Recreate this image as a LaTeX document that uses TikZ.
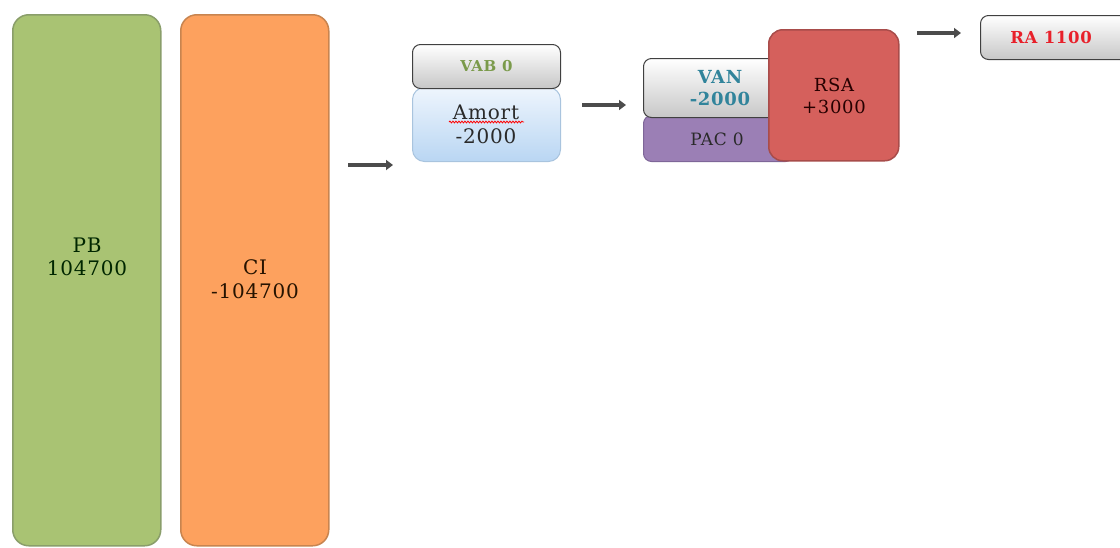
\documentclass[tikz,border=0pt]{standalone}
\usepackage{fontspec}
\setmainfont{DejaVu Serif}[LetterSpace=4]
\usetikzlibrary{positioning,arrows.meta,decorations.pathmorphing}
\definecolor{pbgreen}{HTML}{A9C373}
\definecolor{pbedge}{HTML}{8A9E6A}
\definecolor{ciorange}{HTML}{FDA15E}
\definecolor{ciedge}{HTML}{C8844F}
\definecolor{rsared}{HTML}{D5605C}
\definecolor{rsaedge}{HTML}{A84C4A}
\definecolor{pacpurple}{HTML}{9B7FB5}
\definecolor{pacedge}{HTML}{7E6698}
\definecolor{amorttop}{HTML}{EEF5FD}
\definecolor{amortbot}{HTML}{B9D6F3}
\definecolor{amortedge}{HTML}{A9C4DE}
\definecolor{vabtext}{HTML}{7A9A4A}
\definecolor{vantext}{HTML}{31849B}
\definecolor{ratext}{HTML}{E8202A}
\definecolor{darktext}{HTML}{2A2A2A}
\tikzset{
  bigbox/.style={draw, line width=1.5pt, rounded corners=16pt, minimum width=148pt,
    minimum height=531pt, anchor=north west},
  greybox/.style={draw=black!75, line width=1pt, rounded corners=8pt, top color=white,
    bottom color=black!22, anchor=north west, align=center},
  flowarrow/.style={draw=black!70, line width=3.2pt, -{Triangle[length=7pt,width=10pt]}}
}
\begin{document}
\begin{tikzpicture}[x=1pt,y=-1pt]
\useasboundingbox (0,0) rectangle (1120,547);
% left columns
\node[bigbox, fill=pbgreen, draw=pbedge] (pb) at (12,14) {};
\node[text=black!85!green, font=\fontsize{20}{23}\selectfont, align=center] (pbtext) at (87,257) {PB\\104700};
\node[bigbox, fill=ciorange, draw=ciedge] (ci) at (180,14) {};
\node[text=black!85!orange, font=\fontsize{20}{24}\selectfont, align=center] (citext) at (255,279) {CI\\-104700};

% VAB and Amort
\node[draw=amortedge, line width=1pt, rounded corners=12pt, top color=amorttop, bottom color=amortbot,
  minimum width=148pt, minimum height=74pt, anchor=north west] (amort) at (412,87) {};
\node[font=\fontsize{20}{24}\selectfont, text=darktext, align=center] (amorttext) at (486,124) {Amort\\-2000};
\draw[red, line width=0.8pt, decorate, decoration={snake, amplitude=0.9pt, segment length=3pt}]
  (449,122) -- (524,122);
\node[greybox, minimum width=148pt, minimum height=44pt, font=\bfseries\fontsize{15}{17}\selectfont,
  text=vabtext] (vab) at (412,44) {VAB 0};

% VAN, PAC and RSA
\node[draw=pacedge, line width=1pt, rounded corners=8pt, fill=pacpurple, minimum width=150pt,
  minimum height=46pt, anchor=north west] (pac) at (643,115) {};
\node[font=\fontsize{17}{19}\selectfont, text=darktext] (pactext) at (717,139) {PAC 0};
\node[greybox, minimum width=146pt, minimum height=59pt] (van) at (643,58) {};
\node[font=\bfseries\fontsize{18}{22}\selectfont, text=vantext, align=center] (vantext) at (720,88) {VAN\\-2000};
\node[draw=rsaedge, line width=1.5pt, rounded corners=14pt, fill=rsared, minimum width=130pt,
  minimum height=131pt, anchor=north west] (rsa) at (768,29) {};
\node[font=\fontsize{18}{22}\selectfont, text=black!85!red, align=center] (rsatext) at (834,96) {RSA\\+3000};

% result
\node[greybox, minimum width=160pt, minimum height=44pt] (ra) at (980,15) {};
\node[font=\bfseries\fontsize{16.5}{19}\selectfont, text=ratext] (ratext) at (1051,37) {RA 1100};

% arrows
\coordinate (a1s) at (348,165);
\coordinate (a1e) at (393,165);
\coordinate (a2s) at (582,105);
\coordinate (a2e) at (626,105);
\coordinate (a3s) at (917,33);
\coordinate (a3e) at (961,33);
\draw[flowarrow] (a1s) -- (a1e);
\draw[flowarrow] (a2s) -- (a2e);
\draw[flowarrow] (a3s) -- (a3e);
\end{tikzpicture}
\end{document}
